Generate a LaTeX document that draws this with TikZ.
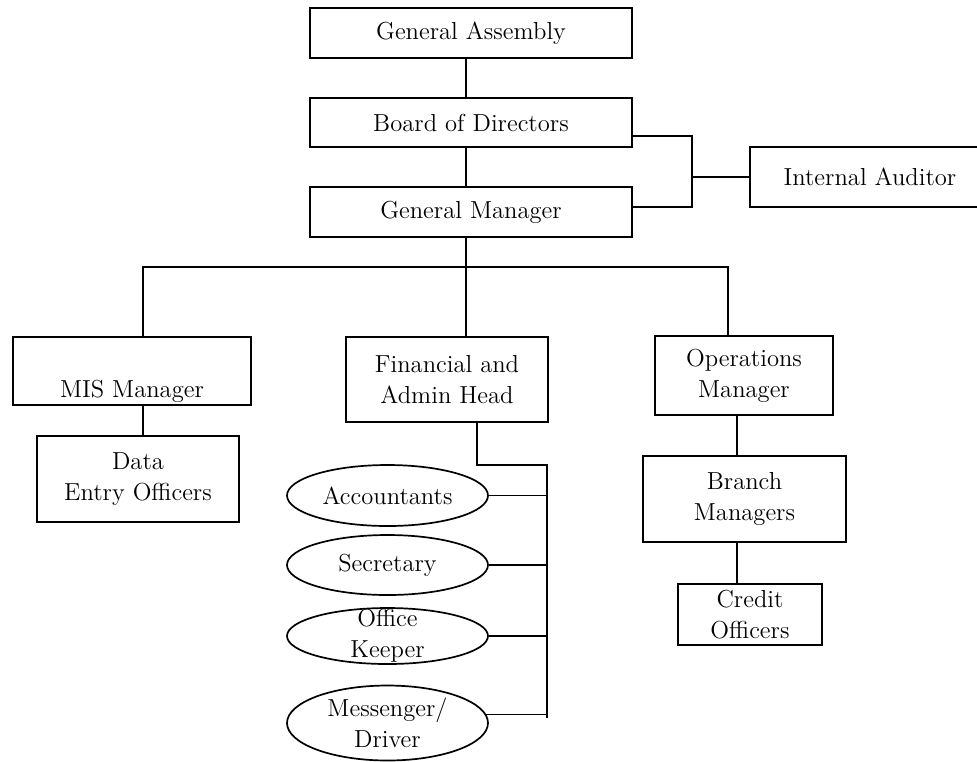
\documentclass[tikz,border=0pt]{standalone}
\usepackage{tikz}
\usetikzlibrary{calc,shapes.geometric}

\tikzset{
	post/.style={draw, line width=1.1pt, fill=white, align=center, inner sep=0pt,
		font=\fontsize{12.3}{15.5}\selectfont},
	staff/.style={draw, ellipse, line width=0.85pt, inner sep=0pt,
		minimum width=100.5pt},
	stafftext/.style={align=center, inner sep=0pt, font=\fontsize{12.3}{15.5}\selectfont},
	link/.style={line width=0.7pt}
}

\begin{document}
\begin{tikzpicture}[x=0.5pt,y=-0.5pt]
	
	\useasboundingbox (0,0) rectangle (977,761);
	\clip (0,0) rectangle (977,761);
	
	%top boxes
	\node[post, minimum width=161pt, minimum height=25pt]   (ga)  at (471,33)    {General Assembly};
	\node[post, minimum width=161pt, minimum height=24.5pt] (bod) at (471,122.5) {Board of Directors};
	\node[post, minimum width=161pt, minimum height=25pt]   (gm)  at (471,212)   {General Manager};
	\node[post, minimum width=120pt, minimum height=30pt]   (ia)  at (870,177)   {Internal Auditor};
	
	%second row
	\node[post, minimum width=119pt, minimum height=34pt]   (mis) at (132,371)   {\mbox{}\\[14pt]MIS Manager};
	\node[post, minimum width=101pt, minimum height=42.5pt] (fin) at (447,379.5) {Financial and\\Admin Head};
	\node[post, minimum width=89pt,  minimum height=39.5pt] (ops) at (744,375.5) {Operations\\Manager};
	
	%lower boxes
	\node[post, minimum width=101pt, minimum height=43pt]   (dat) at (138,479)   {Data\\Entry Officers};
	\node[post, minimum width=101.5pt, minimum height=43pt] (brm) at (744.5,499) {Branch\\Managers};
	\node[post, minimum width=72pt,  minimum height=30.5pt] (cro) at (750,614.5) {Credit\\Officers};
	
	%staff ovals
	\node[staff, minimum height=30.5pt, label={[stafftext]center:Accountants}]            (acc) at (387.5,495.5) {};
	\node[staff, minimum height=30pt,   label={[stafftext]center:Secretary}]              (sec) at (387.5,565)   {};
	\node[staff, minimum height=28pt,   label={[stafftext]center:{Office\\Keeper}}]       (okp) at (387.5,636)   {};
	\node[staff, minimum height=37.5pt, label={[stafftext]center:{Messenger/\\Driver}}]   (msg) at (387.5,723)   {};
	
	%turning points
	\coordinate (bus)  at (466,267);	%under the general manager
	\coordinate (busL) at (143,267);
	\coordinate (busR) at (728,267);
	\coordinate (jn)   at (692,177);	%auditor joint
	\coordinate (fdrop) at (477,465);
	\coordinate (rail) at (547,465);
	\coordinate (railend) at (547,718);
	\coordinate (opsx) at (737,500);
	
	%main line
	\draw[link] (ga.south -| bus) -- (bod.north -| bus);
	\draw[link] (bod.south -| bus) -- (gm.north -| bus);
	\draw[link] (gm.south -| bus) -- (bus) -- (fin.north -| bus);
	\draw[link] (mis.north -| busL) |- (busR) -- (ops.north -| busR);
	
	%auditor
	\draw[link] ($(bod.east)+(0,13.5)$) -| (jn) |- ($(gm.east)+(0,-5)$);
	\draw[link] (jn) -- (ia.west);
	
	%left and right columns
	\draw[link] (mis.south -| busL) -- (dat.north -| busL);
	\draw[link] (ops.south -| opsx) -- (brm.north -| opsx);
	\draw[link] (brm.south -| opsx) -- (cro.north -| opsx);
	
	%finance staff
	\draw[link] (fin.south -| fdrop) -- (fdrop) -- (rail) -- (railend);
	\draw[link] (acc.east) -- (acc.east -| rail);
	\draw[link] (sec.east) -- (sec.east -| rail);
	\draw[link] (okp.east) -- (okp.east -| rail);
	\draw[link] (msg.5) -- (msg.5 -| rail);
	
\end{tikzpicture}
\end{document}
